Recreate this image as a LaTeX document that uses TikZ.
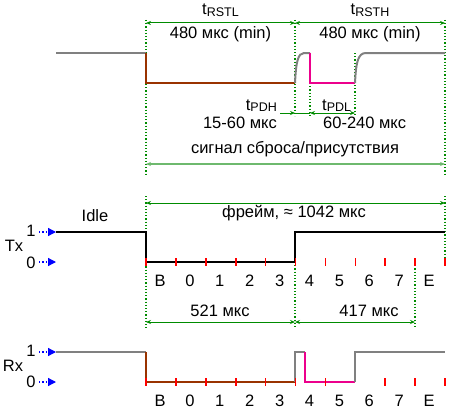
\documentclass[tikz,border=0pt]{standalone}
\usepackage{fontspec}
\setmainfont{Liberation Sans}
\usetikzlibrary{arrows.meta}
\definecolor{dimgreen}{RGB}{0,140,0}
\definecolor{sumgreen}{RGB}{110,185,110}
\definecolor{sigbrown}{RGB}{153,51,0}
\definecolor{siggray}{RGB}{128,128,128}
\newcommand{\tsub}[1]{t\raisebox{-1.5pt}{\fontsize{12.5}{14}\selectfont #1}}

\tikzset{
  lbl/.style={font=\fontsize{16.5}{19}\selectfont, inner sep=0pt},
  dimline/.style={draw=dimgreen, line width=1pt, {Stealth[length=5pt,width=4pt]}-{Stealth[length=5pt,width=4pt]}},
  guide/.style={draw=dimgreen, dotted, line width=1.2pt},
  tickmark/.style={draw=red, line width=1.6pt},
  wave/.style={line width=2pt, line join=miter},
  level/.style={draw=blue, dotted, line width=1.3pt, -{Triangle[length=8pt,width=8pt,sep=0pt]}},
}

\begin{document}
\begin{tikzpicture}[x=1pt, y=-1pt]
  \useasboundingbox (0,0) rectangle (454,412);
  % ---- reset / presence pulse
  \coordinate (rs) at (146,23);
  \coordinate (rm) at (295,23);
  \coordinate (re) at (445,23);
  \draw[guide] (146,20) -- (146,174);
  \draw[guide] (295,20) -- (295,116);
  \draw[guide] (310,83) -- (310,116);
  \draw[guide] (355,53) -- (355,116);
  \draw[guide] (445,20) -- (445,174);
  \draw[wave, siggray] (56,53) -- (146,53);
  \draw[wave, sigbrown] (146,53) -- (146,83) -- (295,83);
  \draw[wave, siggray] (295,83) .. controls (296,62) and (298,53) .. (304,53) -- (310,53);
  \draw[wave, magenta] (310,53) -- (310,83) -- (355,83);
  \draw[wave, siggray] (355,83) .. controls (356,62) and (358,53) .. (366,53) -- (445,53);
  \draw[dimline] (rs) -- (rm);
  \draw[dimline] (rm) -- (re);
  \node[lbl, anchor=base] (tRSTL) at (220.5,15) {\tsub{RSTL}};
  \node[lbl, anchor=base] (vRSTL) at (220.5,38) {480 мкс (min)};
  \node[lbl, anchor=base] (tRSTH) at (370,15) {\tsub{RSTH}};
  \node[lbl, anchor=base] (vRSTH) at (370,38) {480 мкс (min)};
  % ---- tPDH / tPDL
  \coordinate (pa) at (280,113);
  \coordinate (pb) at (295,113);
  \coordinate (pc) at (310,113);
  \coordinate (pd) at (355,113);
  \draw[draw=dimgreen, line width=1pt, -{Stealth[length=5pt,width=4pt]}] (pa) -- (pb);
  \draw[draw=dimgreen, line width=1pt] (pb) -- (pc);
  \draw[dimline] (pc) -- (pd);
  \node[lbl, anchor=base east] (tPDH) at (277,110) {\tsub{PDH}};
  \node[lbl, anchor=base east] (vPDH) at (277,128) {15-60 мкс};
  \node[lbl, anchor=base west] (tPDL) at (322,110) {\tsub{PDL}};
  \node[lbl, anchor=base west] (vPDL) at (323,128) {60-240 мкс};
  % ---- whole signal
  \coordinate (ss) at (146,164);
  \coordinate (se) at (445,164);
  \draw[dimline, draw=sumgreen, line width=2pt] (ss) -- (se);
  \node[lbl, anchor=base] (sig) at (295,153) {сигнал сброса/присутствия};

  % ---- Tx frame
  \coordinate (fs) at (146,203);
  \coordinate (fe) at (445,203);
  \draw[guide] (146,196) -- (146,328);
  \draw[guide] (295,262) -- (295,328);
  \draw[guide] (415,262) -- (415,328);
  \draw[guide] (445,196) -- (445,262);
  \draw[dimline] (fs) -- (fe);
  \node[lbl, anchor=base] (frame) at (294,217) {фрейм, ≈ 1042 мкс};
  \node[lbl, anchor=base] (idle) at (95,221) {Idle};
  \node[lbl, anchor=base] (tx) at (14,251) {Tx};
  \node[lbl, anchor=base] (tx1) at (31,236) {1};
  \node[lbl, anchor=base] (tx0) at (31,268) {0};
  \draw[level] (39,232) -- (56,232);
  \draw[level] (39,262) -- (56,262);
  \draw[wave, black] (56,232) -- (146,232) -- (146,262) -- (295,262) -- (295,232) -- (445,232);
  \foreach \i in {0,...,10}
    \draw[tickmark] ({146+29.9*\i},258) -- ++(0,8);
  \foreach \b [count=\i from 0] in {B,0,1,2,3,4,5,6,7,E}
    \node[lbl, anchor=base] (tb\i) at ({160+29.9*\i},286) {\b};
  \coordinate (ba) at (146,322);
  \coordinate (bb) at (295,322);
  \coordinate (bc) at (415,322);
  \draw[dimline] (ba) -- (bb);
  \draw[dimline] (bb) -- (bc);
  \node[lbl, anchor=base] (d521) at (220,316) {521 мкс};
  \node[lbl, anchor=base] (d417) at (369,316) {417 мкс};

  % ---- Rx
  \node[lbl, anchor=base] (rx) at (13,371) {Rx};
  \node[lbl, anchor=base] (rx1) at (31,356) {1};
  \node[lbl, anchor=base] (rx0) at (31,387) {0};
  \draw[level] (39,352) -- (56,352);
  \draw[level] (39,382) -- (56,382);
  \draw[wave, siggray] (56,352) -- (146,352);
  \draw[wave, sigbrown] (146,352) -- (146,382) -- (295,382);
  \draw[wave, siggray] (295,382) -- (295,352) -- (305,352);
  \draw[wave, magenta] (305,352) -- (305,382) -- (355,382);
  \draw[wave, siggray] (355,382) -- (355,352) -- (445,352);
  \foreach \i in {0,...,6,8,9,10}
    \draw[tickmark] ({146+29.9*\i},378) -- ++(0,8);
  \foreach \b [count=\i from 0] in {B,0,1,2,3,4,5,6,7,E}
    \node[lbl, anchor=base] (rb\i) at ({160+29.9*\i},406) {\b};
\end{tikzpicture}
\end{document}
